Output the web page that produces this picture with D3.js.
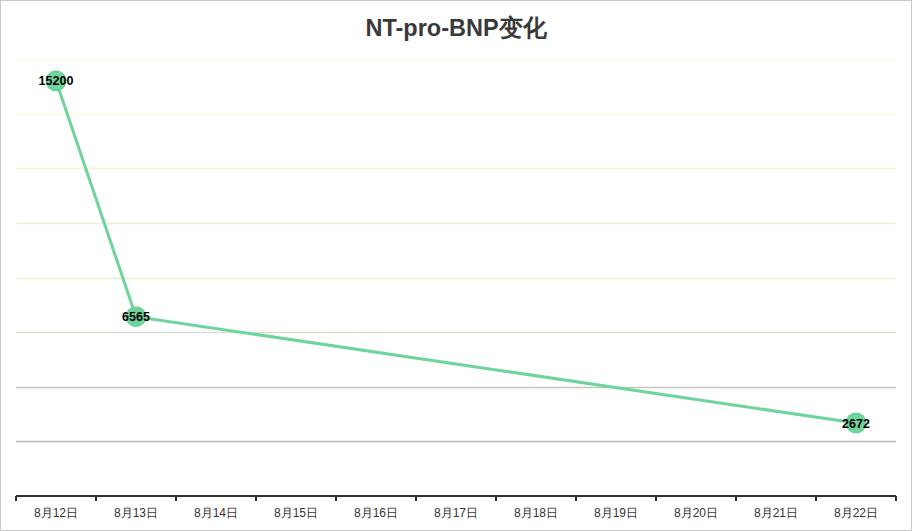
<!DOCTYPE html>
<html><head><meta charset="utf-8">
<script src="https://cdn.jsdelivr.net/npm/d3@7/dist/d3.min.js"></script>
<style>html,body{margin:0;padding:0;background:#fff;}svg{display:block;}</style>
</head><body>
<script>
const title = "NT-pro-BNP变化";
const categories = ["8月12日","8月13日","8月14日","8月15日","8月16日","8月17日","8月18日","8月19日","8月20日","8月21日","8月22日"];
const pointDates = ["8月12日","8月13日","8月22日"];
const pointValues = [15200, 6565, 2672];
const gridValues = [2000,4000,6000,8000,10000,12000,14000,16000];
const gridColors = ["#b9b9b9","#c6c6c2","#deded0","#ebebd6","#f1f1d2","#f6f6c8","#fafadc","#fcfce6"];

const W = 912, H = 531;
const svg = d3.select("body").append("svg").attr("width", W).attr("height", H);
svg.append("rect").attr("x",0.5).attr("y",0.5).attr("width",W-1).attr("height",H-1)
  .attr("fill","#fff").attr("stroke","#c8c8c8");

const x = d3.scaleBand().domain(categories).range([16, 896]);
const y = d3.scaleLinear().domain([0, 16000]).range([496, 59]);

svg.append("text").attr("x", 456).attr("y", 36).attr("text-anchor","middle")
  .attr("font-family","'Liberation Sans', Arial, sans-serif").attr("font-weight","bold")
  .attr("font-size",23.5).attr("fill","#3a3a3a").text(title);

svg.append("g").selectAll("line").data(gridValues).join("line")
  .attr("x1",16).attr("x2",896)
  .attr("y1",d=>Math.round(y(d))+0.5).attr("y2",d=>Math.round(y(d))+0.5)
  .attr("stroke",(d,i)=>gridColors[i]).attr("stroke-width",1.5);

// x axis
const axisG = svg.append("g").attr("transform","translate(0,496)");
axisG.append("line").attr("x1",16).attr("x2",896).attr("y1",0).attr("y2",0)
  .attr("stroke","#333").attr("stroke-width",2);
const bounds = categories.map(c=>x(c)).concat([x.range()[1]]);
axisG.selectAll("line.tick").data(bounds).join("line").attr("class","tick")
  .attr("x1",d=>d).attr("x2",d=>d).attr("y1",0).attr("y2",5)
  .attr("stroke","#333").attr("stroke-width",2);
axisG.selectAll("text").data(categories).join("text")
  .attr("x",d=>x(d)+x.bandwidth()/2).attr("y",21).attr("text-anchor","middle")
  .attr("font-family","'Liberation Sans', Arial, sans-serif").attr("font-size",12)
  .attr("fill","#333").text(d=>d);

const pts = pointDates.map((d,i)=>({d, v: pointValues[i]}));
const line = d3.line().x(p=>x(p.d)+x.bandwidth()/2).y(p=>y(p.v));
svg.append("path").datum(pts).attr("d",line).attr("fill","none")
  .attr("stroke","#6ed49d").attr("stroke-width",3);
svg.append("g").selectAll("circle").data(pts).join("circle")
  .attr("cx",p=>x(p.d)+x.bandwidth()/2).attr("cy",p=>y(p.v)).attr("r",10.5)
  .attr("fill","#6ed49d");
svg.append("g").selectAll("text").data(pts).join("text")
  .attr("x",p=>x(p.d)+x.bandwidth()/2).attr("y",p=>y(p.v)+4.5)
  .attr("text-anchor","middle").attr("font-family","'Liberation Sans', Arial, sans-serif")
  .attr("font-weight","bold").attr("font-size",12.5).attr("fill","#000").text(p=>p.v);
</script>
</body></html>
